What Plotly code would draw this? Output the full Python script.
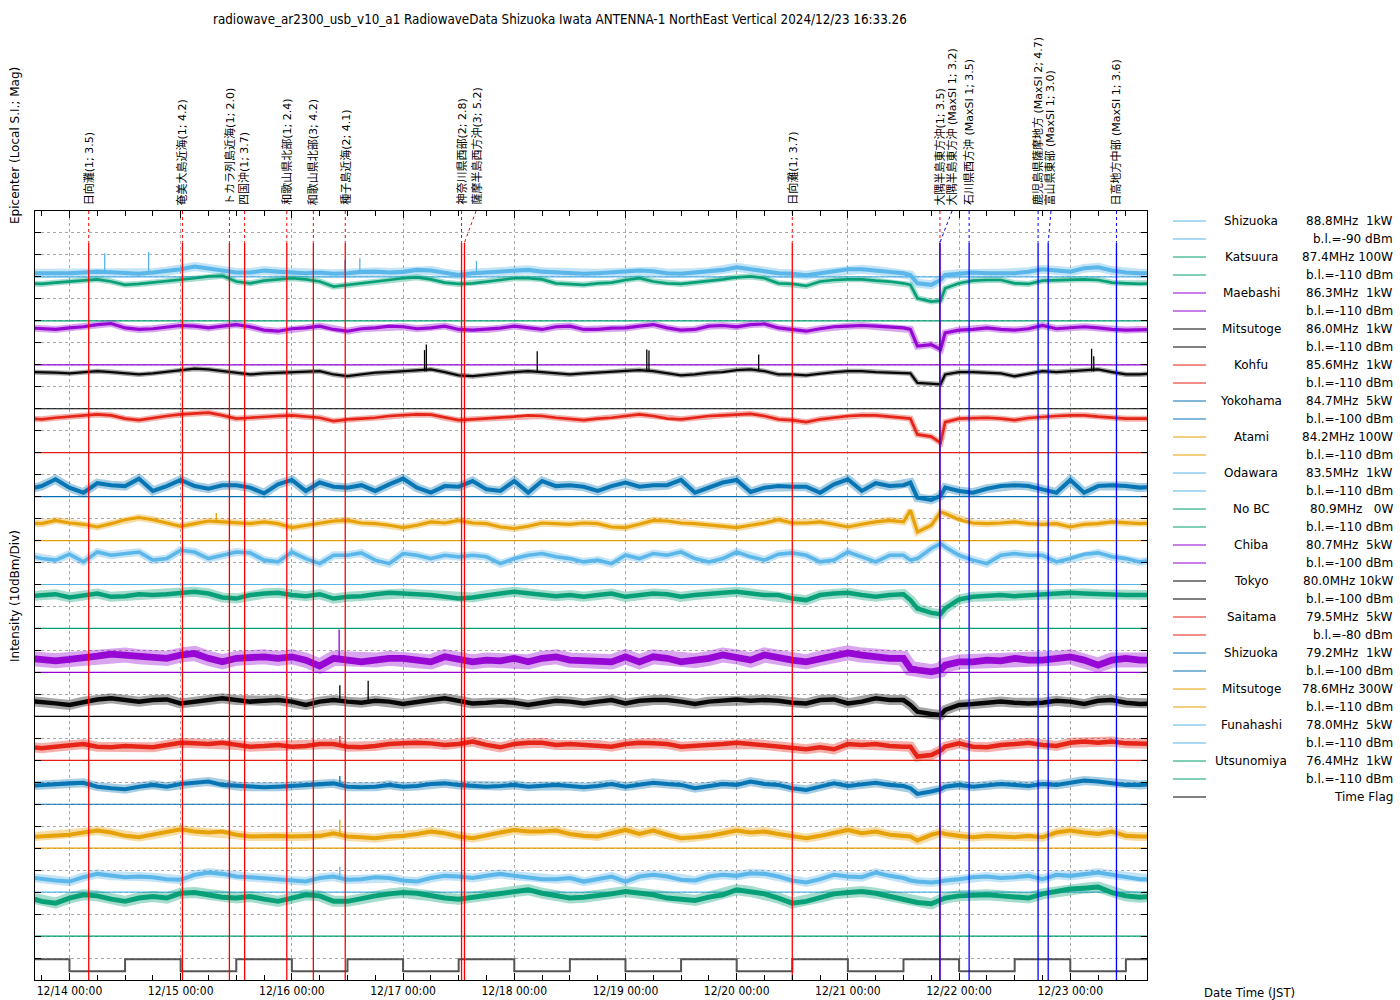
import pandas as pd
import plotly.graph_objects as go

# ---------------- time grid (3-hourly samples, plus two extra samples on 12/21) ----------------
TIMES = list(pd.date_range("2024-12-13 15:00", "2024-12-23 18:00", freq="3h"))
TIMES.insert(64, pd.Timestamp("2024-12-21 13:30"))
TIMES.insert(67, pd.Timestamp("2024-12-21 20:00"))

X_START = "2024-12-13 16:33:26"
X_END = "2024-12-23 16:33:26"

# ---------------- station metadata ----------------
STATIONS = ["Shizuoka", "Katsuura", "Maebashi", "Mitsutoge", "Kohfu", "Yokohama", "Atami", "Odawara",
            "No BC", "Chiba", "Tokyo", "Saitama", "Shizuoka", "Mitsutoge", "Funahashi", "Utsunomiya"]
FREQ_POWER = ["88.8MHz  1kW", "87.4MHz 100W", "86.3MHz  1kW", "86.0MHz  1kW", "85.6MHz  1kW",
              "84.7MHz  5kW", "84.2MHz 100W", "83.5MHz  1kW", "80.9MHz   0W", "80.7MHz  5kW",
              "80.0MHz 10kW", "79.5MHz  5kW", "79.2MHz  1kW", "78.6MHz 300W", "78.0MHz  5kW",
              "76.4MHz  1kW"]
BASE_LEVEL = [-90, -110, -110, -110, -110, -100, -110, -110, -110, -100, -100, -80, -100, -110, -110, -110]

# ---------------- intensity series (dBm) ----------------
SHIZUOKA_888 = [-88.3, -88.3, -88.6, -88.3, -88.0, -87.6, -87.9, -88.3, -88.6, -88.0,
                -87.4, -86.5, -85.3, -86.1, -87.1, -88.0, -88.0, -87.1, -87.6, -88.0,
                -88.3, -88.0, -88.6, -88.3, -87.7, -87.6, -88.0, -87.7, -86.8, -87.1,
                -88.3, -89.1, -88.3, -88.0, -87.6, -87.1, -86.8, -87.6, -88.0, -88.3,
                -88.6, -88.3, -88.0, -87.7, -87.1, -87.4, -88.3, -88.6, -88.0, -87.6,
                -86.8, -85.6, -86.5, -87.6, -88.3, -88.6, -89.2, -88.3, -87.4, -86.5,
                -86.5, -87.1, -88.0, -88.3,
                -89.1, -92.9, -93.6, -91.4, -89.1,
                -88.6, -88.0, -88.3, -88.3, -88.3, -87.6, -86.5, -87.1, -87.6, -86.1, -85.6, -87.1, -88.0, -88.3, -88.3]
KATSUURA_874 = [-92.9, -93.2, -92.6, -92.1, -91.4, -91.1, -92.1, -93.6, -93.2, -92.6,
                -91.7, -91.1, -90.6, -89.8, -89.5, -92.1, -92.9, -91.7, -91.1, -90.6,
                -91.1, -92.1, -94.4, -93.6, -92.9, -92.1, -91.4, -90.6, -90.2, -91.1,
                -92.6, -93.2, -92.9, -92.1, -91.4, -90.6, -90.6, -91.1, -92.9, -93.2,
                -93.6, -92.9, -92.6, -91.4, -90.6, -92.1, -92.9, -93.2, -92.6, -91.7,
                -91.1, -90.2, -89.8, -90.6, -92.9, -93.2, -94.1, -92.1, -91.4, -91.1,
                -91.1, -91.7, -92.1, -92.9,
                -93.6, -99.7, -101.2, -100.8, -95.2,
                -92.9, -91.7, -91.4, -91.4, -92.9, -93.2, -91.7, -91.4, -91.4, -91.1, -91.4, -92.6, -92.9, -93.2, -92.9]
MAEBASHI_863 = [-93.2, -93.6, -93.9, -93.2, -92.7, -91.7, -91.2, -93.2, -93.9, -93.6,
                -92.7, -92.1, -92.4, -93.2, -92.4, -91.7, -92.7, -94.2, -94.7, -93.6,
                -93.2, -92.4, -93.9, -94.7, -93.6, -93.2, -92.4, -92.7, -93.6, -93.2,
                -92.4, -93.9, -94.2, -93.9, -93.3, -92.4, -93.2, -93.9, -92.7, -92.4,
                -93.9, -93.9, -93.3, -93.2, -92.4, -91.7, -93.2, -94.2, -93.9, -92.4,
                -92.1, -92.7, -91.7, -91.4, -93.2, -93.9, -94.7, -93.6, -92.7, -92.4,
                -92.1, -92.4, -92.7, -93.2,
                -93.9, -101.5, -100.8, -103.0, -95.5,
                -94.2, -93.9, -93.2, -93.9, -94.2, -93.6, -92.1, -93.6, -93.2, -92.7, -93.2, -93.9, -94.2, -93.9, -93.9]
MITSUTOGE_860 = [-93.3, -93.3, -93.6, -93.9, -93.3, -92.9, -93.3, -93.9, -94.4, -93.9,
                 -93.3, -92.4, -91.8, -92.1, -92.9, -93.9, -94.4, -93.9, -93.6, -93.6,
                 -93.3, -92.9, -94.4, -95.2, -94.4, -93.6, -93.3, -92.9, -92.4, -92.1,
                 -93.3, -94.8, -95.2, -94.4, -93.9, -93.3, -92.9, -93.3, -93.9, -94.4,
                 -93.9, -93.6, -93.3, -92.9, -92.4, -92.9, -93.9, -94.8, -94.4, -93.6,
                 -93.3, -92.4, -92.1, -92.9, -94.4, -94.4, -94.8, -93.9, -93.3, -92.9,
                 -92.9, -93.3, -93.6, -93.6,
                 -93.9, -98.2, -98.5, -98.9, -94.4,
                 -93.3, -93.3, -93.6, -93.9, -95.2, -93.9, -92.9, -93.3, -92.9, -92.4, -92.1, -93.3, -94.4, -94.4, -93.9]
KOHFU_856 = [-94.5, -94.8, -94.1, -93.6, -93.3, -92.6, -93.0, -94.5, -95.2, -94.1,
             -93.3, -92.6, -92.1, -91.8, -93.0, -94.5, -94.1, -93.6, -93.3, -93.0,
             -93.6, -94.1, -95.6, -94.8, -94.5, -94.1, -93.3, -93.0, -92.6, -92.7,
             -94.1, -95.2, -94.8, -94.5, -94.1, -93.6, -93.0, -93.3, -94.1, -94.8,
             -95.2, -94.5, -94.1, -93.3, -92.6, -93.3, -94.5, -94.8, -94.1, -93.3,
             -93.0, -92.6, -92.3, -93.3, -94.8, -95.2, -96.1, -94.8, -94.1, -93.3,
             -93.0, -93.0, -93.6, -94.1,
             -94.5, -101.7, -102.7, -105.5, -96.1,
             -94.5, -94.2, -94.1, -94.5, -95.2, -94.2, -93.6, -93.3, -93.0, -93.0, -93.6, -94.1, -94.5, -94.5, -94.5]
YOKOHAMA_847 = [-96.7, -95.2, -92.1, -95.9, -98.2, -93.9, -94.8, -95.2, -91.8, -97.4,
                -95.2, -92.4, -95.2, -96.4, -94.8, -94.8, -95.9, -98.5, -94.4, -92.4,
                -97.4, -93.6, -95.5, -95.9, -94.8, -97.4, -94.4, -91.8, -95.9, -98.2,
                -95.2, -95.5, -92.9, -96.7, -97.4, -92.9, -98.2, -92.9, -95.2, -94.8,
                -95.5, -97.4, -95.2, -93.6, -95.5, -94.8, -94.8, -92.4, -98.2, -95.9,
                -93.6, -92.4, -97.9, -95.9, -95.2, -95.5, -95.5, -98.2, -94.4, -92.1,
                -97.4, -93.9, -95.2, -94.8,
                -93.6, -100.5, -101.5, -99.7, -95.9,
                -97.4, -98.2, -96.4, -95.2, -94.8, -95.2, -96.7, -98.2, -92.4, -98.2, -95.2, -94.8, -95.2, -95.9, -95.5]
ATAMI_842 = [-102.0, -102.3, -100.8, -102.0, -102.6, -103.8, -102.3, -100.5, -99.5, -100.5,
             -102.0, -103.5, -102.3, -101.1, -101.5, -102.0, -102.3, -101.5, -102.3, -104.1,
             -103.0, -102.0, -101.1, -100.8, -102.0, -102.3, -103.0, -104.1, -103.0, -101.5,
             -102.0, -100.8, -102.0, -102.3, -103.8, -104.5, -103.5, -102.0, -102.3, -102.6,
             -102.0, -102.3, -103.8, -104.1, -102.6, -100.8, -101.1, -102.0, -102.3, -103.0,
             -103.5, -104.1, -103.0, -102.0, -100.5, -102.0, -102.0, -101.5, -102.6, -103.8,
             -102.6, -101.5, -100.8, -101.5,
             -96.2, -106.1, -103.0, -97.0, -97.7,
             -100.5, -102.0, -102.3, -102.0, -101.5, -102.3, -102.6, -102.3, -103.8, -102.6, -102.3, -101.5, -102.0, -102.3, -102.0]
ODAWARA_835 = [-96.7, -98.2, -98.9, -96.2, -99.7, -95.2, -96.7, -95.9, -95.2, -98.9,
               -98.2, -94.4, -95.2, -98.2, -96.7, -95.2, -95.6, -98.9, -99.7, -95.2,
               -98.2, -100.5, -96.7, -96.7, -95.6, -98.9, -100.5, -95.9, -96.7, -98.2,
               -96.7, -97.4, -96.7, -97.4, -100.5, -98.2, -96.7, -95.9, -97.4, -98.2,
               -99.7, -98.9, -100.5, -96.7, -98.2, -95.9, -96.7, -95.2, -98.2, -99.7,
               -98.2, -95.2, -97.4, -98.9, -96.2, -95.6, -96.7, -99.7, -98.9, -95.2,
               -97.4, -99.7, -96.7, -96.7,
               -98.9, -98.2, -93.6, -91.4, -92.9,
               -96.7, -98.9, -100.5, -96.7, -95.9, -96.7, -96.7, -99.7, -98.2, -96.2, -95.6, -97.4, -98.2, -99.7, -98.9]
NOBC_809 = [-95.3, -94.8, -94.4, -95.9, -94.8, -94.1, -95.6, -95.3, -94.4, -94.8,
            -94.4, -93.8, -93.3, -94.1, -95.9, -96.4, -94.8, -94.1, -93.8, -94.8,
            -95.3, -94.4, -96.4, -95.6, -95.3, -94.4, -93.8, -94.1, -94.4, -94.8,
            -95.6, -96.4, -95.9, -94.8, -94.1, -93.3, -94.1, -94.8, -95.3, -94.8,
            -95.6, -94.8, -94.1, -95.6, -94.8, -94.1, -94.4, -95.6, -94.8, -94.1,
            -93.8, -93.3, -94.1, -94.8, -94.8, -96.4, -97.1, -94.8, -94.1, -93.8,
            -94.8, -95.6, -94.8, -94.4,
            -97.1, -100.9, -102.9, -103.5, -100.9,
            -96.8, -95.6, -95.3, -94.8, -95.3, -94.8, -94.4, -94.1, -93.8, -94.1, -94.4, -94.8, -94.8, -94.8, -94.8]
CHIBA_807 = [-93.6, -94.4, -94.7, -94.1, -93.6, -92.6, -91.7, -92.1, -92.9, -93.6,
             -93.6, -92.1, -91.4, -93.6, -95.2, -93.6, -92.9, -92.9, -93.6, -92.9,
             -94.4, -97.1, -93.6, -94.4, -95.2, -94.4, -93.6, -93.6, -94.4, -95.2,
             -92.9, -94.4, -95.2, -94.4, -94.7, -93.6, -95.2, -93.6, -92.9, -94.4,
             -94.7, -94.7, -95.2, -92.9, -95.2, -92.9, -93.6, -95.2, -94.7, -93.6,
             -92.1, -92.9, -94.4, -92.1, -93.6, -94.4, -95.2, -93.6, -92.1, -91.1,
             -92.1, -92.9, -93.6, -93.6,
             -98.2, -98.9, -99.7, -98.9, -96.7,
             -95.2, -95.2, -94.4, -94.7, -93.6, -94.4, -94.4, -93.6, -92.9, -94.4, -96.7, -94.4, -93.6, -94.4, -94.4]
TOKYO_800 = [-92.9, -93.3, -94.1, -94.8, -93.3, -92.3, -91.8, -92.6, -93.3, -92.6,
             -92.3, -94.1, -93.3, -92.6, -91.8, -92.6, -93.3, -92.9, -92.6, -93.3,
             -94.8, -93.3, -92.6, -93.3, -93.8, -92.9, -93.3, -94.4, -93.3, -92.6,
             -91.8, -92.9, -94.1, -93.8, -93.3, -93.8, -94.8, -93.8, -92.9, -93.3,
             -94.1, -93.3, -92.6, -94.1, -92.9, -92.6, -92.6, -93.3, -94.4, -93.3,
             -92.9, -92.3, -92.9, -92.6, -92.9, -93.8, -94.1, -92.6, -92.3, -94.1,
             -93.3, -91.8, -92.6, -92.6,
             -94.8, -97.9, -98.9, -99.4, -97.1,
             -94.8, -94.4, -93.8, -93.3, -93.8, -94.1, -93.8, -92.9, -93.3, -94.4, -92.9, -92.6, -93.8, -94.4, -94.1]
SAITAMA_795 = [-73.8, -74.5, -73.8, -73.0, -72.6, -73.8, -74.1, -73.5, -73.8, -74.1,
               -73.0, -72.0, -72.3, -72.6, -72.0, -73.0, -73.8, -73.5, -73.0, -73.8,
               -73.5, -72.6, -72.6, -73.8, -74.1, -73.5, -72.6, -72.3, -72.0, -72.3,
               -73.0, -72.6, -71.5, -73.0, -74.1, -72.6, -72.0, -72.0, -73.0, -72.6,
               -73.0, -73.0, -73.8, -72.6, -72.0, -72.3, -72.6, -73.8, -73.5, -73.0,
               -72.6, -72.0, -72.6, -73.0, -73.8, -74.1, -75.0, -74.1, -75.0, -72.6,
               -73.0, -72.6, -73.5, -73.8,
               -73.8, -78.3, -77.6, -75.6, -73.8,
               -72.3, -73.8, -74.1, -73.0, -72.6, -72.0, -73.0, -73.5, -72.0, -71.5, -72.0, -71.5, -72.3, -72.6, -72.6]
SHIZUOKA_792 = [-91.7, -91.2, -90.8, -90.5, -90.2, -92.0, -92.7, -93.2, -92.0, -91.2,
                -92.0, -90.8, -90.2, -89.7, -91.2, -91.7, -92.0, -92.3, -92.0, -91.7,
                -91.2, -90.8, -90.5, -92.0, -92.3, -92.0, -91.2, -92.0, -91.7, -90.8,
                -90.5, -91.2, -91.7, -92.0, -91.7, -91.2, -92.0, -91.7, -91.2, -91.7,
                -92.3, -91.7, -90.8, -92.0, -91.2, -90.2, -90.8, -91.2, -92.7, -91.7,
                -90.8, -91.2, -89.7, -90.8, -91.2, -92.7, -93.5, -92.0, -90.5, -91.7,
                -90.8, -90.2, -91.2, -91.7,
                -92.7, -95.3, -94.2, -93.2, -92.0,
                -91.2, -92.0, -91.2, -90.8, -91.2, -91.7, -90.8, -91.2, -90.2, -89.2, -89.7, -90.5, -91.2, -91.2, -90.8]
MITSUTOGE_786 = [-105.0, -104.7, -104.4, -103.9, -102.9, -102.0, -102.9, -104.4, -105.0, -103.9,
                 -102.9, -101.4, -102.4, -102.9, -102.4, -103.9, -104.7, -104.4, -104.4, -104.7,
                 -104.7, -104.4, -103.2, -104.7, -105.0, -105.5, -104.7, -104.4, -103.5, -102.4,
                 -103.2, -104.7, -105.5, -104.4, -102.9, -101.7, -102.4, -102.4, -102.0, -103.5,
                 -104.4, -104.7, -103.2, -101.7, -103.5, -102.0, -103.9, -105.5, -105.0, -104.4,
                 -103.2, -102.0, -102.9, -102.4, -103.5, -104.7, -105.5, -104.4, -102.9, -101.7,
                 -103.2, -102.4, -103.9, -104.4,
                 -104.7, -106.5, -103.9, -102.9, -103.5,
                 -104.4, -105.0, -104.4, -104.7, -105.0, -104.4, -105.0, -102.9, -102.0, -102.9, -103.5, -102.4, -104.4, -104.7, -104.7]
FUNAHASHI_780 = [-103.2, -104.1, -104.7, -105.2, -103.2, -101.7, -102.6, -103.2, -102.9, -103.2,
                 -104.1, -104.4, -102.1, -101.1, -101.7, -102.9, -103.2, -103.6, -104.4, -104.7,
                 -105.2, -103.6, -102.9, -104.4, -104.1, -103.2, -103.6, -104.7, -105.2, -103.6,
                 -102.6, -102.9, -103.6, -102.6, -101.7, -102.6, -103.2, -104.1, -104.1, -103.6,
                 -105.2, -104.1, -102.9, -105.2, -102.9, -102.1, -102.9, -104.4, -104.7, -102.9,
                 -102.1, -102.6, -101.4, -101.7, -102.9, -104.7, -105.6, -104.1, -102.1, -102.9,
                 -103.2, -101.1, -102.6, -103.6,
                 -104.7, -105.2, -105.6, -105.2, -104.7,
                 -104.1, -103.2, -102.9, -103.6, -103.2, -102.6, -104.1, -102.1, -102.6, -101.7, -101.1, -102.1, -102.9, -104.1, -104.1]
UTSUNOMIYA_764 = [-92.3, -94.2, -95.0, -92.7, -91.2, -91.7, -93.2, -94.2, -92.7, -92.0,
                  -92.7, -90.5, -90.2, -91.2, -92.3, -92.7, -92.0, -93.2, -94.2, -92.7,
                  -91.2, -91.7, -94.2, -94.2, -92.7, -91.7, -90.8, -90.2, -90.5, -91.7,
                  -92.7, -93.2, -92.3, -91.2, -90.8, -89.7, -88.9, -90.5, -91.7, -92.7,
                  -92.3, -91.7, -90.8, -89.7, -90.5, -91.2, -92.7, -93.5, -93.8, -92.3,
                  -91.2, -88.9, -89.7, -90.8, -92.7, -95.0, -94.2, -92.3, -90.8, -90.2,
                  -89.7, -90.5, -92.0, -93.5,
                  -94.2, -94.7, -95.3, -93.5, -92.7,
                  -91.7, -91.2, -91.2, -91.7, -92.3, -92.7, -90.8, -89.7, -88.6, -88.2, -87.7, -90.2, -91.7, -92.3, -92.0]

SERIES_VALUES = [SHIZUOKA_888, KATSUURA_874, MAEBASHI_863, MITSUTOGE_860, KOHFU_856, YOKOHAMA_847,
                 ATAMI_842, ODAWARA_835, NOBC_809, CHIBA_807, TOKYO_800, SAITAMA_795, SHIZUOKA_792,
                 MITSUTOGE_786, FUNAHASHI_780, UTSUNOMIYA_764]

# ---------------- short spikes (station index, time, level before, peak; dBm) ----------------
SPIKE_STATION = [0, 0, 0, 0, 0, 3, 3, 3, 3, 3, 3, 3, 3, 6, 9, 10, 10, 11, 12, 13, 14]
SPIKE_TIMES = ["2024-12-14 07:36", "2024-12-14 17:05", "2024-12-16 11:27", "2024-12-16 14:40", "2024-12-17 15:50",
               "2024-12-17 04:38", "2024-12-17 05:01", "2024-12-18 04:57", "2024-12-19 04:36", "2024-12-19 05:04",
               "2024-12-20 04:45", "2024-12-23 04:36", "2024-12-23 05:04",
               "2024-12-15 07:41", "2024-12-16 10:12", "2024-12-16 10:21", "2024-12-16 16:28",
               "2024-12-16 10:21", "2024-12-16 10:21", "2024-12-16 10:21", "2024-12-16 10:21"]
SPIKE_FROM = [-88.0, -88.0, -88.0, -88.0, -88.0, -93.0, -93.0, -93.0, -93.0, -93.0, -93.0, -93.0, -93.0,
              -101.5, -93.5, -93.0, -93.0, -73.0, -91.5, -103.5, -103.0]
SPIKE_PEAK = [-79.2, -78.6, -82.3, -81.5, -82.7, -83.3, -80.8, -83.8, -83.0, -83.5, -85.3, -82.7, -86.1,
              -97.4, -80.5, -85.8, -83.8, -68.9, -87.1, -97.1, -98.3]

# ---------------- time flag (1 = 12:00-24:00, 0 = 00:00-12:00) ----------------
FLAG_TIMES = ["2024-12-13 12:00", "2024-12-14 00:00", "2024-12-14 12:00", "2024-12-15 00:00", "2024-12-15 12:00",
              "2024-12-16 00:00", "2024-12-16 12:00", "2024-12-17 00:00", "2024-12-17 12:00", "2024-12-18 00:00",
              "2024-12-18 12:00", "2024-12-19 00:00", "2024-12-19 12:00", "2024-12-20 00:00", "2024-12-20 12:00",
              "2024-12-21 00:00", "2024-12-21 12:00", "2024-12-22 00:00", "2024-12-22 12:00", "2024-12-23 00:00",
              "2024-12-23 12:00", "2024-12-24 00:00"]
FLAG_VALUES = [1, 0, 1, 0, 1, 0, 1, 0, 1, 0, 1, 0, 1, 0, 1, 0, 1, 0, 1, 0, 1, 0]

# ---------------- earthquakes ----------------
EQ_TIMES = ["2024-12-14 04:09", "2024-12-15 00:23", "2024-12-15 10:31", "2024-12-15 13:48", "2024-12-15 22:54",
            "2024-12-16 04:38", "2024-12-16 11:31", "2024-12-17 12:37", "2024-12-17 13:15", "2024-12-20 12:00",
            "2024-12-21 19:52", "2024-12-21 19:52", "2024-12-22 02:10", "2024-12-22 17:03", "2024-12-22 19:14",
            "2024-12-23 09:58"]
EQ_LABELS = ["日向灘(1; 3.5)", "奄美大島近海(1; 4.2)", "トカラ列島近海(1; 2.0)", "四国沖(1; 3.7)",
             "和歌山県北部(1; 2.4)", "和歌山県北部(3; 4.2)", "種子島近海(2; 4.1)", "神奈川県西部(2; 2.8)",
             "薩摩半島西方沖(3; 5.2)", "日向灘(1; 3.7)", "大隅半島東方沖(1; 3.5)",
             "大隅半島東方沖 (MaxSI 1; 3.2)", "石川県西方沖 (MaxSI 1; 3.5)", "鹿児島県薩摩地方 (MaxSI 2; 4.7)",
             "富山県東部 (MaxSI 1; 3.0)", "日高地方中部 (MaxSI 1; 3.6)"]
EQ_SOURCE = ["jma"] * 11 + ["maxsi"] * 5

# ---------------- styles / positions ----------------
PALETTE = ["#56b4e9", "#009e73", "#9400d3", "#000000", "#e51e10", "#0072b2", "#e69f00"]
OFFSETS = [32 - 2 * i for i in range(16)]          # baseline position of each trace (divisions)
BAND = [9, 6, 7, 5, 6, 9, 7, 8, 10, 15, 10, 10, 9, 9, 9, 11]   # visual thickness of noisy band (px)
EQ_LABEL_SHIFT_H = [0, 0, 0, 0, 0, 0, 0, 0, 2.5, 0, 0, 2.6, 0, 0, 0.6, 0]
EQ_COLOR = {"jma": "#ff0000", "maxsi": "#0000ff"}
LINE_TOP = 33.56
Y_MAX = 35

FONT = "DejaVu Sans, Noto Sans CJK JP, sans-serif"
FONT_COND = "DejaVu Sans Condensed, Liberation Sans Narrow, DejaVu Sans, sans-serif"

L, R, T, B = 35, 253, 211, 20
W, H = 1400, 1000
PW, PH = W - L - R, H - T - B


def px_x(px):
    return (px - L) / PW


def px_y(py):
    return (H - B - py) / PH


fig = go.Figure()

for i, vals in enumerate(SERIES_VALUES):
    col = PALETTE[i % 7]
    bl = BASE_LEVEL[i]
    off = OFFSETS[i]
    ys = [off + (v - bl) / 10 for v in vals]
    fig.add_trace(go.Scatter(x=TIMES, y=ys, mode="lines",
                             line=dict(color=col, width=BAND[i]), opacity=0.35, hoverinfo="skip"))
    fig.add_trace(go.Scatter(x=TIMES, y=ys, mode="lines",
                             line=dict(color=col, width=max(1.5, BAND[i] * 0.45)), opacity=0.95, hoverinfo="skip"))
    sx, sy = [], []
    for s, st in enumerate(SPIKE_STATION):
        if st == i:
            sx += [SPIKE_TIMES[s], SPIKE_TIMES[s], None]
            sy += [off + (SPIKE_FROM[s] - bl) / 10, off + (SPIKE_PEAK[s] - bl) / 10, None]
    if sx:
        fig.add_trace(go.Scatter(x=sx, y=sy, mode="lines", line=dict(color=col, width=1.3), hoverinfo="skip"))
    fig.add_trace(go.Scatter(x=[X_START, X_END], y=[off, off], mode="lines",
                             line=dict(color=col, width=1.2), hoverinfo="skip"))

# time flag
fig.add_trace(go.Scatter(x=FLAG_TIMES, y=[0.4 + 0.55 * f for f in FLAG_VALUES], mode="lines",
                         line=dict(color="#555555", width=2, shape="hv"), hoverinfo="skip"))

# earthquake lines and labels
for t, lab, src, sh in zip(EQ_TIMES, EQ_LABELS, EQ_SOURCE, EQ_LABEL_SHIFT_H):
    col = EQ_COLOR[src]
    tl = pd.Timestamp(t) + pd.Timedelta(hours=sh)
    fig.add_trace(go.Scatter(x=[tl, pd.Timestamp(t)], y=[Y_MAX, LINE_TOP], mode="lines",
                             line=dict(color=col, width=1, dash="dot"), hoverinfo="skip"))
    fig.add_trace(go.Scatter(x=[t, t], y=[0, LINE_TOP], mode="lines",
                             line=dict(color=col, width=1.3), hoverinfo="skip"))
    fig.add_annotation(x=tl, y=1, xref="x", yref="paper", yshift=4, text=lab, textangle=-90,
                       showarrow=False, xanchor="center", yanchor="bottom",
                       font=dict(family=FONT, size=11, color="black"))

# custom legend
row = 0
shapes = []
for i in range(16):
    col = PALETTE[i % 7]
    for r in range(2):
        yy = px_y(221 + 18 * row)
        shapes.append(dict(type="line", xref="paper", yref="paper", x0=px_x(1173), x1=px_x(1206),
                           y0=yy, y1=yy, line=dict(color=col, width=1)))
        if r == 0:
            fig.add_annotation(x=px_x(1251), y=yy, xref="paper", yref="paper", text=STATIONS[i],
                               showarrow=False, xanchor="center", yanchor="middle",
                               font=dict(family=FONT, size=12, color="black"))
            txt = FREQ_POWER[i].replace(" ", "\u00a0")
        else:
            txt = "b.l.=%d\u00a0dBm" % BASE_LEVEL[i]
        fig.add_annotation(x=px_x(1395), y=yy, xref="paper", yref="paper", text=txt,
                           showarrow=False, xanchor="right", yanchor="middle",
                           font=dict(family=FONT, size=12, color="black"))
        row += 1
yy = px_y(221 + 18 * row)
shapes.append(dict(type="line", xref="paper", yref="paper", x0=px_x(1173), x1=px_x(1206),
                   y0=yy, y1=yy, line=dict(color="black", width=1)))
fig.add_annotation(x=px_x(1395), y=yy, xref="paper", yref="paper", text="Time Flag",
                   showarrow=False, xanchor="right", yanchor="middle",
                   font=dict(family=FONT, size=12, color="black"))

# titles
fig.add_annotation(x=px_x(560), y=px_y(20), xref="paper", yref="paper",
                   text="radiowave_ar2300_usb_v10_a1 RadiowaveData Shizuoka Iwata ANTENNA-1 NorthEast Vertical 2024/12/23 16:33.26",
                   showarrow=False, xanchor="center", yanchor="middle",
                   font=dict(family=FONT_COND, size=13.3, color="black"))
fig.add_annotation(x=px_x(15), y=px_y(146), xref="paper", yref="paper", text="Epicenter (Local S.I.; Mag)",
                   textangle=-90, showarrow=False, xanchor="center", yanchor="middle",
                   font=dict(family=FONT, size=12, color="black"))
fig.add_annotation(x=px_x(15), y=px_y(596), xref="paper", yref="paper", text="Intensity (10dBm/Div)",
                   textangle=-90, showarrow=False, xanchor="center", yanchor="middle",
                   font=dict(family=FONT, size=12, color="black"))
fig.add_annotation(x=px_x(1249), y=px_y(992), xref="paper", yref="paper", text="Date Time (JST)",
                   showarrow=False, xanchor="center", yanchor="middle",
                   font=dict(family=FONT_COND, size=13, color="black"))

fig.update_layout(
    width=W, height=H, margin=dict(l=L, r=R, t=T, b=B, autoexpand=False),
    paper_bgcolor="white", plot_bgcolor="white", showlegend=False, shapes=shapes,
    xaxis=dict(type="date", range=[X_START, X_END], tickformat="%m/%d %H:%M", dtick=86400000,
               tick0="2024-12-14 00:00", ticks="inside", ticklen=7, tickcolor="black",
               showline=True, linecolor="black", linewidth=1, mirror="ticks",
               showgrid=True, gridcolor="#a8a8a8", griddash="dot", gridwidth=1, zeroline=False,
               tickfont=dict(family=FONT_COND, size=12, color="black"), automargin=False,
               minor=dict(dtick=6 * 3600 * 1000, ticks="inside", ticklen=5, tickcolor="black", showgrid=False)),
    yaxis=dict(range=[0, Y_MAX], dtick=1, tick0=0, showticklabels=False, ticks="inside", ticklen=6,
               tickcolor="black", showline=True, linecolor="black", linewidth=1, mirror="ticks",
               showgrid=True, gridcolor="#a8a8a8", griddash="dot", gridwidth=1, zeroline=False,
               automargin=False),
)

fig.write_html("out.html", config={"displayModeBar": False},
               post_script="document.body.style.margin='0px';")
